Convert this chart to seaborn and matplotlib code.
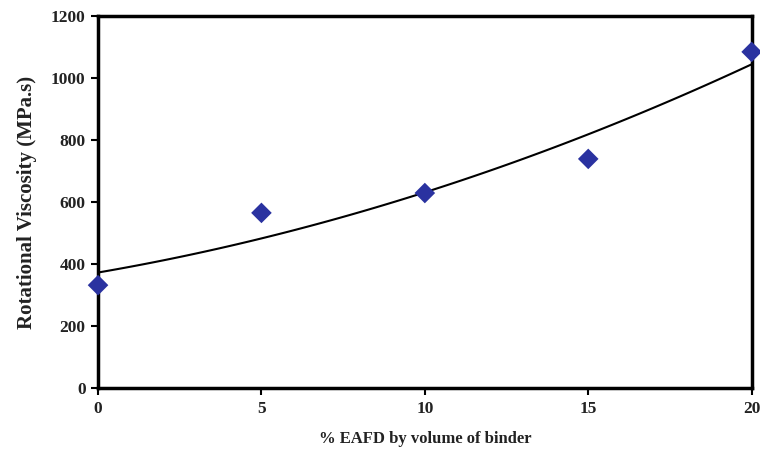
import matplotlib
matplotlib.use("Agg")
import matplotlib.pyplot as plt
import seaborn as sns
import numpy as np
import pandas as pd

eafd_pct = [0, 5, 10, 15, 20]
viscosity = [332, 565, 629, 739, 1084]
x_ticks = [0, 5, 10, 15, 20]
y_ticks = [0, 200, 400, 600, 800, 1000, 1200]

sns.set_style("white")
plt.rcParams['font.family'] = ['Liberation Serif', 'DejaVu Serif']
plt.rcParams['font.weight'] = 'bold'

df = pd.DataFrame({"x": eafd_pct, "y": viscosity})

fig = plt.figure(figsize=(7.6, 4.54), dpi=100)
ax = fig.add_axes([0.129, 0.145, 0.860, 0.820])

sns.regplot(data=df, x="x", y="y", order=2, ci=None, ax=ax,
            marker="D",
            scatter_kws=dict(s=110, color="#2A32A0", alpha=1, edgecolors="none", zorder=3, clip_on=False),
            line_kws=dict(color="black", lw=1.5, zorder=2))

ax.set_xlim(0, 20)
ax.set_ylim(0, 1200)
ax.set_xticks(x_ticks)
ax.set_yticks(y_ticks)
ax.tick_params(bottom=True, left=True, direction="out", length=5, width=1.5,
               colors="black", labelsize=12.5, pad=4)
for lab in ax.get_xticklabels() + ax.get_yticklabels():
    lab.set_fontweight("bold")
    lab.set_color("#222222")
for sp in ax.spines.values():
    sp.set_linewidth(2.5)
    sp.set_color("black")
    sp.set_visible(True)
ax.set_xlabel("% EAFD by volume of binder", fontsize=12, fontweight="bold", color="#222222", labelpad=10)
ax.set_ylabel("Rotational Viscosity (MPa.s)", fontsize=15, fontweight="bold", color="#222222", labelpad=10)

fig.savefig("out.png", dpi=100)
